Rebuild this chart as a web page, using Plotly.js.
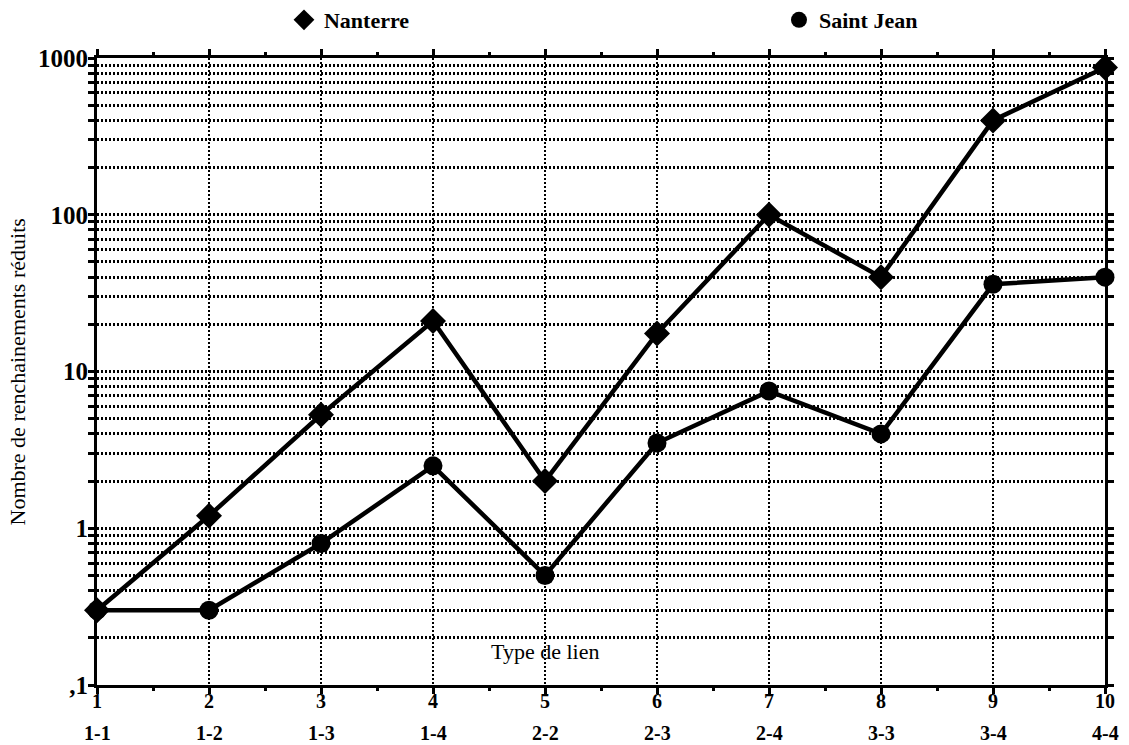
<!DOCTYPE html>
<html><head><meta charset="utf-8">
<script src="https://cdn.plot.ly/plotly-3.0.1.min.js"></script>
<style>body{margin:0;background:#fff}#chart{width:1129px;height:745px}</style>
</head><body><div id="chart"></div>
<script>
const xPositions = [1,2,3,4,5,6,7,8,9,10];
const linkTypes = ["1-1","1-2","1-3","1-4","2-2","2-3","2-4","3-3","3-4","4-4"];
const nanterre = [0.3, 1.2, 5.3, 21, 2, 17.5, 100, 40, 400, 870];
const saintJean = [0.3, 0.3, 0.8, 2.5, 0.5, 3.5, 7.5, 4, 36, 40];
const yTickVals = [0.1,0.2,0.3,0.4,0.5,0.6,0.7,0.8,0.9,1,2,3,4,5,6,7,8,9,10,20,30,40,50,60,70,80,90,100,200,300,400,500,600,700,800,900,1000];
const yTickLabels = {0.1:",1",1:"1",10:"10",100:"100",1000:"1000"};

const FONT = "Liberation Serif, Times New Roman, serif";
const lineStyle = {color:'#000', width:4.5};
const traces = [
  {x:xPositions, y:nanterre, mode:'lines+markers', name:'Nanterre', showlegend:false,
   line:lineStyle, marker:{symbol:'diamond', size:20, color:'#000'}, cliponaxis:false},
  {x:xPositions, y:saintJean, mode:'lines+markers', name:'Saint Jean', showlegend:false,
   line:lineStyle, marker:{symbol:'circle', size:19, color:'#000'}, cliponaxis:false},
  {x:[null], y:[null], mode:'markers', name:'Nanterre', marker:{symbol:'diamond', size:19, color:'#000'}},
  {x:[null], y:[null], mode:'markers', name:'Saint Jean', marker:{symbol:'circle', size:18, color:'#000'}}
];
const annotations = linkTypes.map((t,i)=>({
  x:xPositions[i], xref:'x', y:-0.0766, yref:'paper', text:t, showarrow:false,
  font:{family:FONT, size:20, color:'#000', weight:'bold'}, xanchor:'center', yanchor:'middle'
}));
annotations.push({x:0.444, xref:'paper', y:0.053, yref:'paper', text:'Type de lien', showarrow:false,
  font:{family:FONT, size:22, color:'#000'}, xanchor:'center', yanchor:'middle'});
annotations.push({x:-0.0784, xref:'paper', y:0.5, yref:'paper', text:'Nombre de renchainements réduits',
  textangle:-90, showarrow:false, font:{family:FONT, size:22, color:'#000'}, xanchor:'center', yanchor:'middle'});

const layout = {
  width:1129, height:745,
  margin:{l:97, r:24, t:58, b:60, autoexpand:false},
  paper_bgcolor:'#fff', plot_bgcolor:'#fff',
  font:{family:FONT, color:'#000'},
  showlegend:true,
  legend:{orientation:'h', x:0.1855, y:1.0606, xanchor:'left', yanchor:'middle',
    entrywidth:450, entrywidthmode:'pixels',
    font:{family:FONT, size:22, color:'#000', weight:'bold'}},
  xaxis:{range:[1,10], tickvals:xPositions, ticktext:xPositions.map(String),
    showgrid:true, gridcolor:'#000', gridwidth:2, griddash:'2px,2px',
    showline:true, linecolor:'#000', linewidth:3, mirror:'ticks',
    ticks:'outside', ticklen:6, tickwidth:3, tickcolor:'#000', ticklabelstandoff:-10,
    minor:{dtick:0.5, tick0:1, ticks:'outside', ticklen:3, tickwidth:3, tickcolor:'#000', showgrid:false},
    tickfont:{family:FONT, size:20, weight:'bold'}, zeroline:false},
  yaxis:{type:'log', range:[-1,3], tickvals:yTickVals, ticktext:yTickVals.map(v=>yTickLabels[v]||''),
    showgrid:true, gridcolor:'#000', gridwidth:3, griddash:'2px,2px',
    showline:true, linecolor:'#000', linewidth:3, mirror:'ticks',
    ticks:'outside', ticklen:6, tickwidth:3, tickcolor:'#000', ticklabelstandoff:-5,
    tickfont:{family:FONT, size:25, weight:'bold'}, zeroline:false},
  annotations:annotations
};
Plotly.newPlot('chart', traces, layout, {displayModeBar:false, staticPlot:true});
</script></body></html>
